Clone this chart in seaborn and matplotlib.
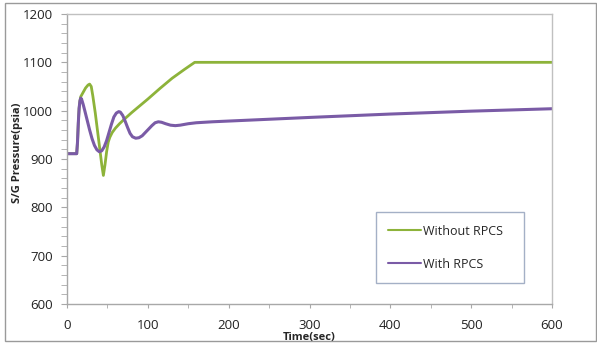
import matplotlib
matplotlib.use('Agg')
import matplotlib.pyplot as plt
import seaborn as sns
import pandas as pd
from matplotlib.patches import Rectangle

# values
time_without = [0, 12, 13, 14, 15, 16, 17, 20, 23, 26, 28, 30, 32, 35, 38, 41, 43, 45,
                47, 49, 51, 53, 56, 60, 65, 70, 80, 90, 100, 115, 130, 145, 158, 600]
press_without = [911, 911, 935, 975, 1005, 1020, 1029, 1038, 1047, 1053, 1055, 1050, 1030,
                 995, 955, 915, 888, 866, 888, 915, 935, 945, 955, 964, 973, 981, 996,
                 1010, 1024, 1046, 1067, 1085, 1100, 1100]

time_with = [0, 12, 13, 14, 15, 16, 17, 18, 20, 22, 25, 28, 31, 34, 37, 40, 43, 46, 49,
             52, 55, 58, 61, 64, 66, 69, 72, 75, 78, 81, 85, 89, 93, 97, 101, 105, 109,
             113, 117, 122, 128, 134, 140, 150, 160, 180, 220, 300, 400, 500, 600]
press_with = [911, 911, 935, 975, 1005, 1020, 1026, 1024, 1013, 1000, 980, 960, 942, 928,
              919, 915, 917, 925, 938, 955, 972, 987, 995, 998, 997, 990, 978, 965, 953,
              946, 943, 944, 948, 955, 962, 969, 975, 977, 976, 973, 970, 969, 970, 973,
              975, 977, 980, 986, 993, 999, 1004]

labels = ['Without RPCS', 'With RPCS']
colors = ['#8db33a', '#7a5ba6']

sns.set_style('white')
plt.rcParams['font.family'] = ['Open Sans', 'DejaVu Sans']

fig = plt.figure(figsize=(5.97, 3.43), dpi=100)
ax = fig.add_axes([67 / 597, 1 - 304 / 343, 485 / 597, 290 / 343])

df_without = pd.DataFrame({'t': time_without, 'p': press_without})
df_with = pd.DataFrame({'t': time_with, 'p': press_with})
sns.lineplot(data=df_without, x='t', y='p', ax=ax, color=colors[0], lw=2.0, label=labels[0])
sns.lineplot(data=df_with, x='t', y='p', ax=ax, color=colors[1], lw=2.2, label=labels[1])

ax.set_xlim(0, 600)
ax.set_ylim(600, 1200)
ax.set_xticks(range(0, 601, 100))
ax.set_xticks(range(0, 601, 50), minor=True)
ax.set_yticks(range(600, 1201, 100))
ax.set_yticks(range(600, 1201, 20), minor=True)

for s in ax.spines.values():
    s.set_color('#c0c0c0')
    s.set_linewidth(1.0)
ax.spines['left'].set_color('#a8a8a8')
ax.spines['bottom'].set_color('#a8a8a8')

ax.tick_params(axis='both', which='both', direction='out', colors='#a8a8a8',
               labelcolor='#222222', labelsize=9.5)
ax.tick_params(axis='y', which='both', length=4, pad=6, left=True)
ax.tick_params(axis='x', which='both', length=3, pad=8, bottom=True)

ax.set_xlabel('Time(sec)', fontsize=8, fontweight='bold', va='center')
ax.set_ylabel('S/G Pressure(psia)', fontsize=8, fontweight='bold', va='center')
ax.xaxis.set_label_coords(0.499, -0.116)
ax.yaxis.set_label_coords(-0.102, 0.52)

leg = ax.legend(loc='upper left', bbox_to_anchor=(0.637, 0.079, 0.305, 0.238), mode='expand',
                fontsize=9, frameon=True, fancybox=False, handlelength=2.6, handletextpad=0.15,
                labelspacing=1.6, borderpad=1.0, borderaxespad=0)
leg.get_frame().set_edgecolor('#8e9cb8')
leg.get_frame().set_linewidth(1.0)
for h in leg.get_lines():
    h.set_linewidth(1.5)

fig.patches.append(Rectangle((5 / 597, 2 / 343), 591 / 597, 338 / 343, transform=fig.transFigure,
                             fill=False, edgecolor='#9a9a9a', lw=1.0))

fig.savefig('out.png', dpi=100)
